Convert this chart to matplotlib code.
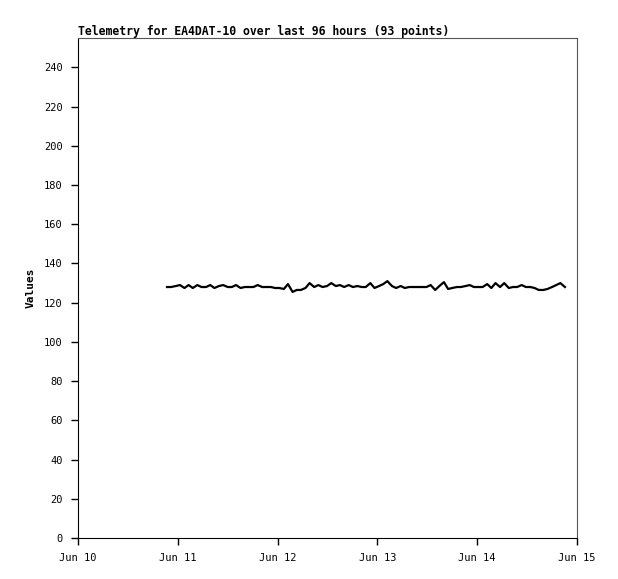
from datetime import datetime, timedelta
import matplotlib
matplotlib.use("Agg")
import matplotlib.pyplot as plt
import matplotlib.dates as mdates

# hours since Jun 10 00:00
hours = [21.4, 22.4, 23.5, 24.5, 25.6, 26.6, 27.6, 28.7, 29.7, 30.8,
         31.8, 32.8, 33.9, 34.9, 36.0, 37.0, 38.0, 39.1, 40.1, 41.2,
         42.2, 43.2, 44.3, 45.3, 46.4, 47.4, 48.4, 49.5, 50.5, 51.6,
         52.6, 53.6, 54.7, 55.7, 56.8, 57.8, 58.8, 59.9, 60.9, 62.0,
         63.0, 64.0, 65.1, 66.1, 67.2, 68.2, 69.2, 70.3, 71.3, 72.4,
         73.4, 74.4, 75.5, 76.5, 77.6, 78.6, 79.6, 80.7, 81.7, 82.8,
         83.8, 84.8, 85.9, 86.9, 88.0, 89.0, 90.0, 91.1, 92.1, 93.2,
         94.2, 95.2, 96.3, 97.3, 98.4, 99.4, 100.4, 101.5, 102.5, 103.6,
         104.6, 105.6, 106.7, 107.7, 108.8, 109.8, 110.8, 111.9, 112.9, 114.0,
         115.0, 116.0, 117.1]

values = [128, 128, 128.5, 129, 127.5, 129, 127.5, 129, 128, 128,
          129, 127.5, 128.5, 129, 128, 128, 129, 127.5, 128, 128,
          128, 129, 128, 128, 128, 127.5, 127.5, 127, 129.5, 125.5,
          126.5, 126.5, 127.5, 130, 128, 129, 128, 128.5, 130, 128.5,
          129, 128, 129, 128, 128.5, 128, 128, 130, 127.5, 128.5,
          129.5, 131, 128.5, 127.5, 128.5, 127.5, 128, 128, 128, 128,
          128, 129, 126.5, 128.5, 130.5, 127, 127.5, 128, 128, 128.5,
          129, 128, 128, 128, 129.5, 127.5, 130, 128, 130, 127.5,
          128, 128, 129, 128, 128, 127.5, 126.5, 126.5, 127, 128,
          129, 130, 128]

title = "Telemetry for EA4DAT-10 over last 96 hours (93 points)"
ylabel = "Values"

start = datetime(2023, 6, 10)
times = [start + timedelta(hours=h) for h in hours]

fig = plt.figure(figsize=(6.18, 5.79), dpi=100)
ax = fig.add_axes([78 / 618, 41 / 579, 499 / 618, 500 / 579])

ax.plot(times, values, color="black", linewidth=1.6)

ax.set_xlim(start, start + timedelta(days=5))
ax.set_ylim(0, 255)
ax.set_yticks(range(0, 241, 20))
ax.xaxis.set_major_locator(mdates.DayLocator())
ax.xaxis.set_major_formatter(mdates.DateFormatter("%b %d"))

mono = "DejaVu Sans Mono"
for lab in ax.get_xticklabels() + ax.get_yticklabels():
    lab.set_family(mono)
    lab.set_fontsize(7.5)

ax.tick_params(direction="out", length=5, width=1, colors="black", pad=6)
ax.spines["left"].set_color("black")
ax.spines["bottom"].set_color("black")
ax.spines["top"].set_color("#555555")
ax.spines["right"].set_color("#555555")

ax.set_title(title, loc="left", family=mono, fontweight="bold", fontsize=8.3, pad=2)
ax.set_ylabel(ylabel, family=mono, fontweight="bold", fontsize=8, labelpad=6)

fig.savefig("out.png", dpi=100)
